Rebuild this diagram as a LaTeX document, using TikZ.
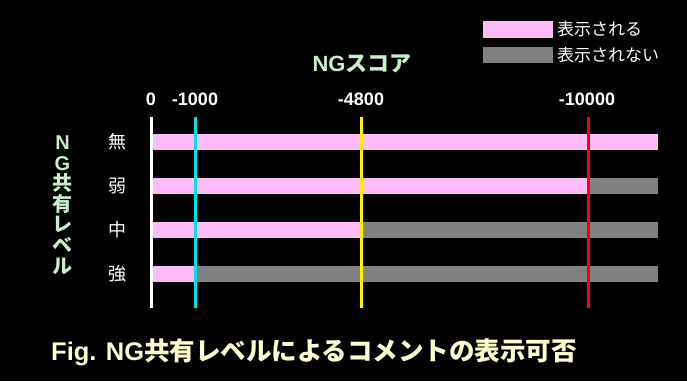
\documentclass[tikz,border=0pt]{standalone}
\usepackage{fontspec}
\setmainfont{Liberation Sans}
\newfontfamily\cjk{Noto Sans CJK JP}
\newcommand{\jp}[1]{{\cjk #1}}

\definecolor{shown}{RGB}{255,187,247}
\definecolor{hidden}{RGB}{128,128,128}
\definecolor{scoregreen}{RGB}{200,240,200}
\definecolor{captioncream}{RGB}{255,255,204}
\definecolor{lowcyan}{RGB}{0,224,230}

\tikzset{
  lbl/.style={inner sep=0pt, text=white},
  tick/.style={lbl, font=\fontsize{18}{18}\selectfont\bfseries},
  level/.style={lbl, font=\fontsize{18}{18}\selectfont\cjk},
  legendtxt/.style={lbl, anchor=west, font=\fontsize{17}{17}\selectfont\cjk},
  limit/.style={line width=3pt}
}

\begin{document}
\begin{tikzpicture}[x=1pt, y=-1pt]
  % Background
  \fill[black] (0,0) rectangle (687,381);
  \useasboundingbox (0,0) rectangle (687,381);

  % Legend
  \fill[shown] (483,21) rectangle (553,38);
  \fill[hidden] (483,47) rectangle (553,63);
  \node[legendtxt] (lshown) at (557,29) {表示される};
  \node[legendtxt] (lhidden) at (557,55) {表示されない};

  % Axis title and score labels
  \node[lbl, text=scoregreen, font=\fontsize{22}{22}\selectfont\bfseries]
    (score) at (362,64) {NG\jp{スコア}};
  \node[tick] (t0) at (151,99) {0};
  \node[tick] (t1000) at (195,99) {-1000};
  \node[tick] (t4800) at (361,99) {-4800};
  \node[tick] (t10000) at (587,99) {-10000};

  % Vertical axis title
  \node[lbl, text=scoregreen, align=center,
        font=\fontsize{20}{20.6}\selectfont\bfseries]
    (share) at (62.5,205) {N\\G\\\jp{共}\\\jp{有}\\\jp{レ}\\\jp{ベ}\\\jp{ル}};

  % Levels
  \node[level] (none) at (117,142) {無};
  \node[level] (weak) at (117,186) {弱};
  \node[level] (mid) at (117,230) {中};
  \node[level] (strong) at (117,274) {強};

  % Bars
  \fill[shown] (151,134) rectangle (658,150);
  \fill[shown] (151,178) rectangle (588,194);
  \fill[hidden] (588,178) rectangle (658,194);
  \fill[shown] (151,222) rectangle (361,238);
  \fill[hidden] (361,222) rectangle (658,238);
  \fill[shown] (151,266) rectangle (195,282);
  \fill[hidden] (195,266) rectangle (658,282);

  % Threshold lines
  \coordinate (z0) at (151,117);   \coordinate (z1) at (151,308);
  \coordinate (a0) at (195,117);   \coordinate (a1) at (195,308);
  \coordinate (b0) at (361,117);   \coordinate (b1) at (361,308);
  \coordinate (c0) at (588,117);   \coordinate (c1) at (588,308);
  \draw[limit, white] (z0) -- (z1);
  \draw[limit, lowcyan] (a0) -- (a1);
  \draw[limit, yellow] (b0) -- (b1);
  \draw[limit, red] (c0) -- (c1);

  % Caption
  \node[lbl, anchor=west, text=captioncream,
        font=\fontsize{25.5}{25.5}\selectfont\bfseries]
    (caption) at (51,352) {Fig. NG\jp{共有レベルによるコメントの表示可否}};
\end{tikzpicture}
\end{document}
